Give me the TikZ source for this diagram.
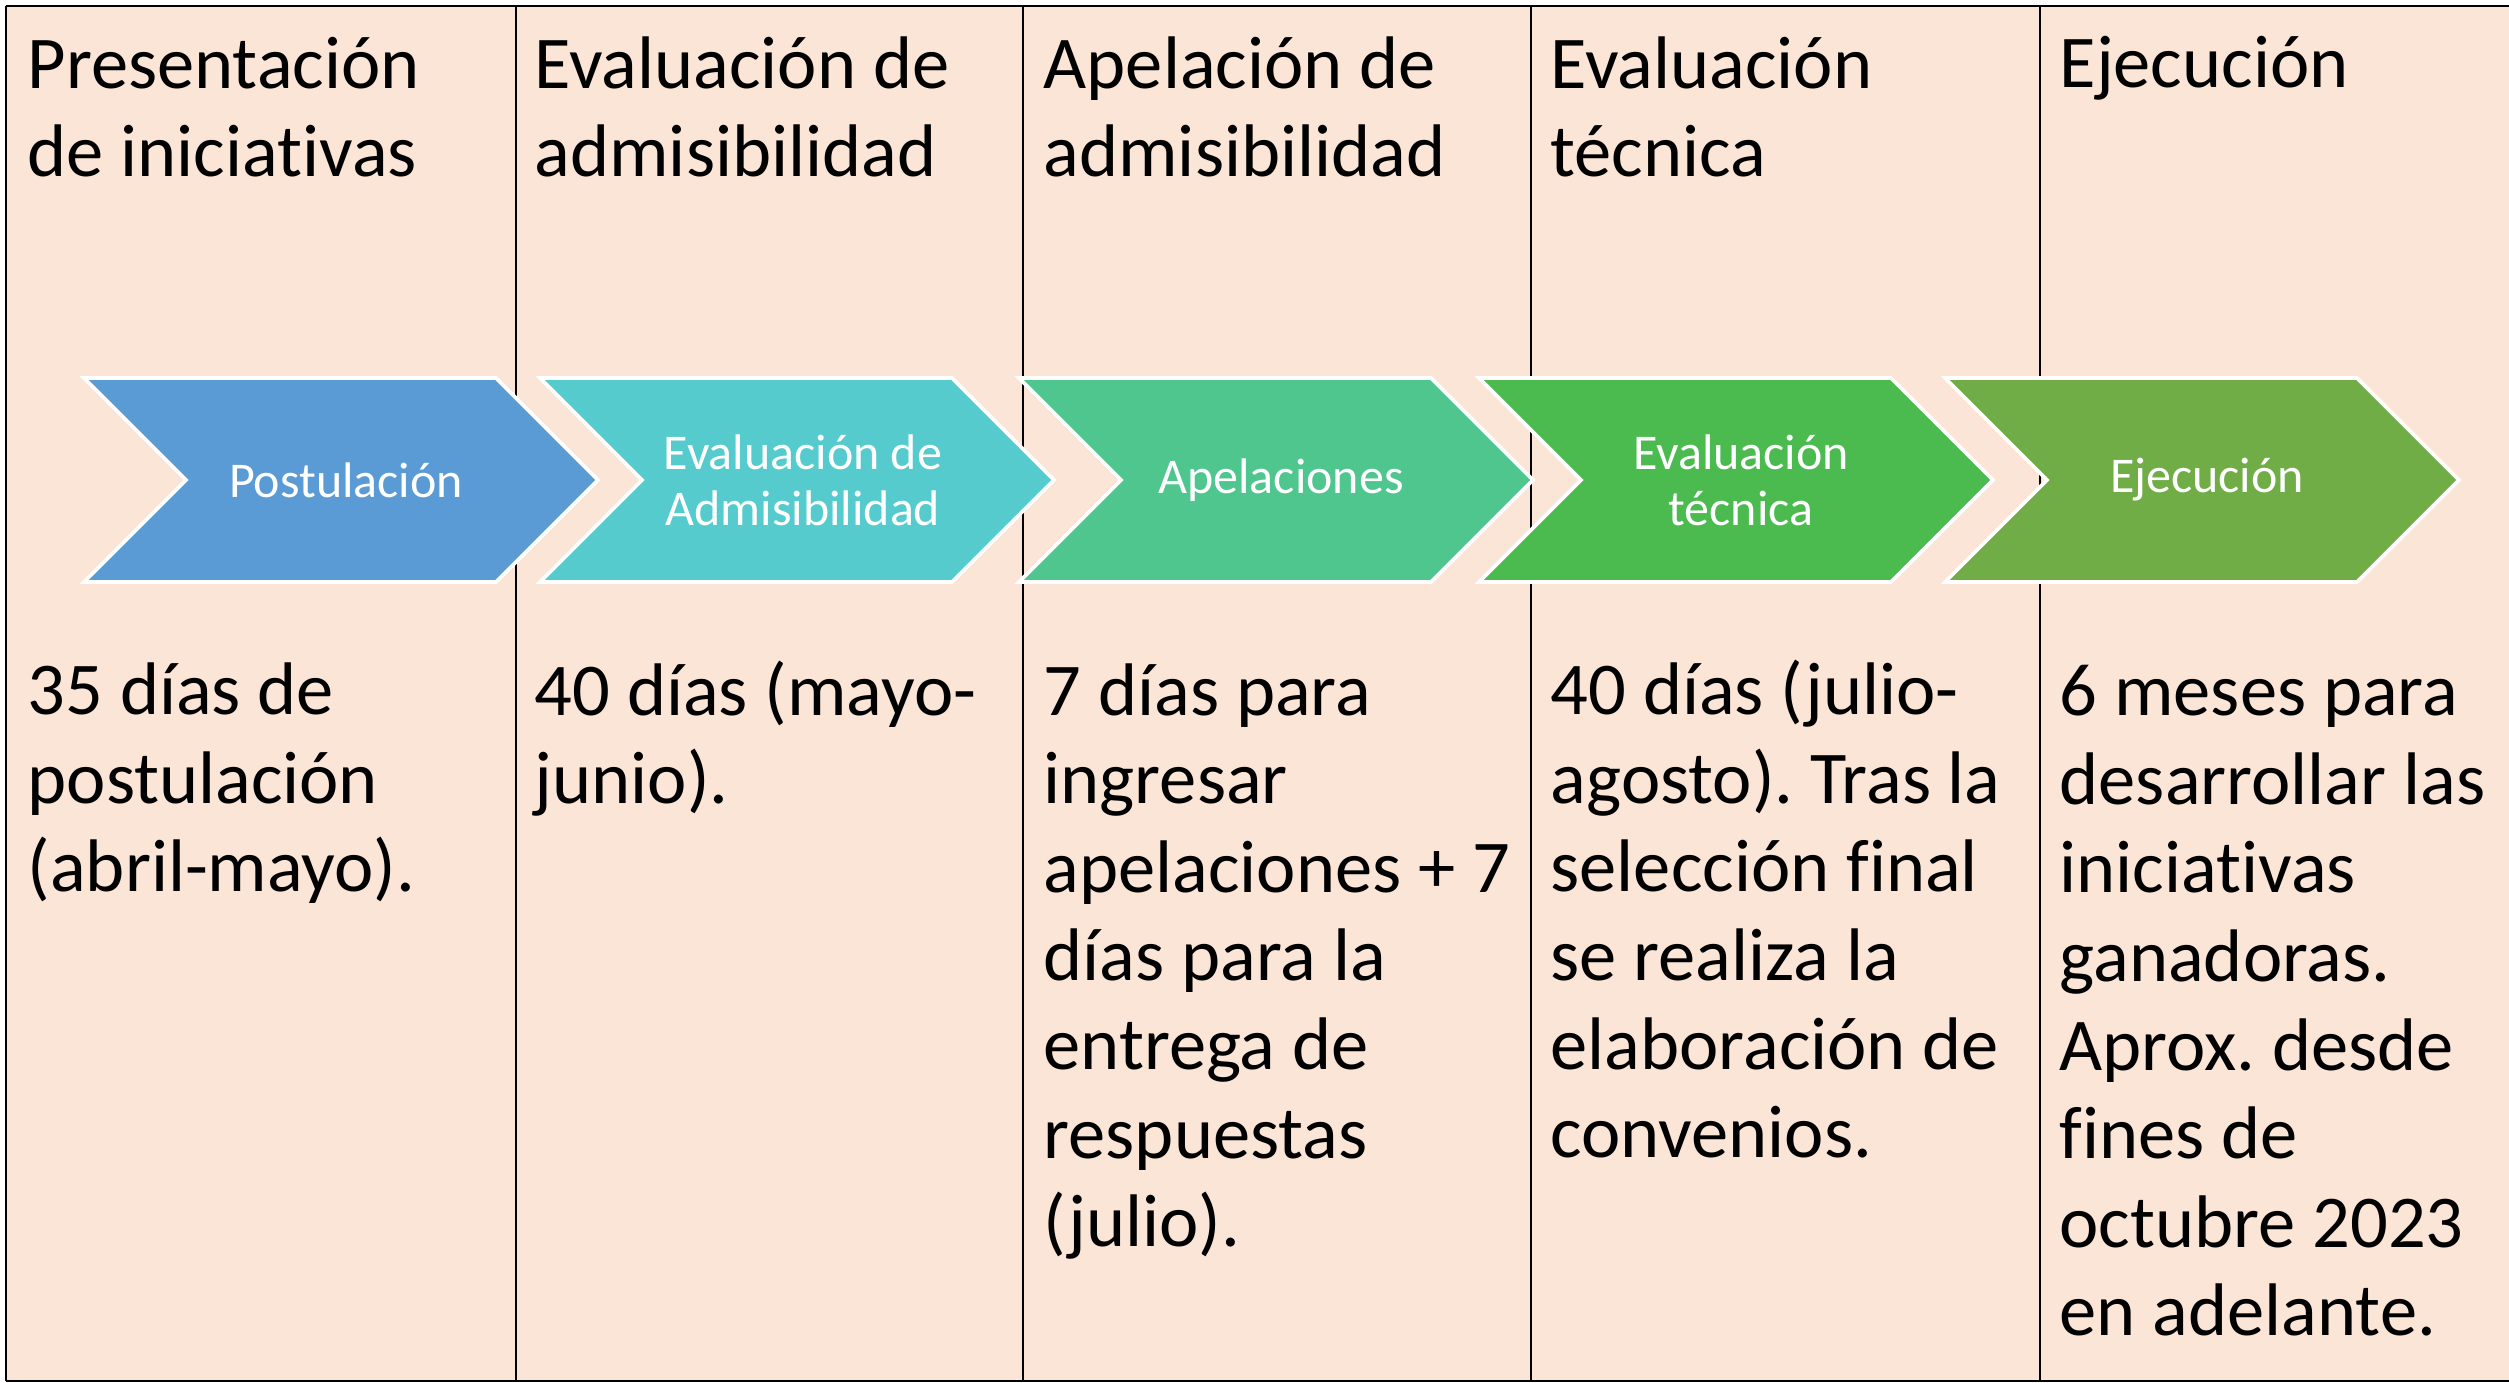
\documentclass[tikz,border=0pt]{standalone}
\usepackage{fontspec}
\setmainfont{Carlito}[Ligatures={NoCommon,NoContextual,NoRare},RawFeature={-liga;-clig;-calt;-dlig}]
\definecolor{bg}{HTML}{FBE5D6}
\definecolor{cA}{HTML}{5B9BD5}
\definecolor{cB}{HTML}{56CBCD}
\definecolor{cC}{HTML}{50C68F}
\definecolor{cD}{HTML}{4BBB50}
\definecolor{cE}{HTML}{70AD47}
\begin{document}
\frenchspacing
\begin{tikzpicture}[x=0.3pt,y=-0.3pt,
  grid/.style={draw=black,line width=0.6pt},
  chevbox/.style={draw=white,line width=1.1pt,line join=miter},
  chevtext/.style={text=white,align=center,inner sep=0pt,font=\fontsize{15}{16.8}\selectfont},
  coltext/.style={anchor=base west,align=left,inner sep=0pt,text=black,font=\fontsize{22.35}{26.6}\selectfont}]
\useasboundingbox (0,0) rectangle (2509,1383);
\fill[white] (0,0) rectangle (2509,1383);
\fill[bg] (6,6) rectangle (2509,1381);
% grid
\draw[grid] (6,6) -- (2509,6);
\draw[grid] (6,1381) -- (2509,1381);
\draw[grid,line width=0.8pt] (6,6) -- (6,1381);
\draw[grid] (516,6) -- (516,1381);
\draw[grid] (1023,6) -- (1023,1381);
\draw[grid] (1531,6) -- (1531,1381);
\draw[grid] (2040,6) -- (2040,1381);
% headers (anchor = baseline of the last line; line pitch 88.7)
\node[coltext] (h1) at (27,177) {Presentación\\de iniciativas};
\node[coltext] (h2) at (534,177) {Evaluación de\\admisibilidad};
\node[coltext] (h3) at (1043,177) {Apelación de\\admisibilidad};
\node[coltext] (h4) at (1550,177) {Evaluación\\técnica};
\node[coltext] (h5) at (2059,88) {Ejecución};
% chevrons
\path[chevbox,fill=cA] (84,378) -- ++(412,0) -- ++(102,102) -- ++(-102,102) -- ++(-412,0) -- ++(102,-102) -- cycle;
\path[chevbox,fill=cB] (540,378) -- ++(412,0) -- ++(102,102) -- ++(-102,102) -- ++(-412,0) -- ++(102,-102) -- cycle;
\path[chevbox,fill=cC] (1019,378) -- ++(412,0) -- ++(102,102) -- ++(-102,102) -- ++(-412,0) -- ++(102,-102) -- cycle;
\path[chevbox,fill=cD] (1479,378) -- ++(412,0) -- ++(102,102) -- ++(-102,102) -- ++(-412,0) -- ++(102,-102) -- cycle;
\path[chevbox,fill=cE] (1945,378) -- ++(412,0) -- ++(102,102) -- ++(-102,102) -- ++(-412,0) -- ++(102,-102) -- cycle;
\node[chevtext] (s1) at (346,480) {Postulación};
\node[chevtext] (s2) at (803,480) {Evaluación de\\Admisibilidad};
\node[chevtext] (s3) at (1281,480) {Apelaciones};
\node[chevtext] (s4) at (1741,480) {Evaluación\\técnica};
\node[chevtext] (s5) at (2207,480) {Ejecución};
% bodies (anchor = baseline of the last line)
\node[coltext] (b1) at (27,892) {35 días de\\postulación\\(abril-mayo).};
\node[coltext] (b2) at (534,804) {40 días (mayo-\\junio).};
\node[coltext] (b3) at (1043,1247) {7 días para\\ingresar\\apelaciones + 7\\días para la\\entrega de\\respuestas\\(julio).};
\node[coltext] (b4) at (1550,1158) {40 días (julio-\\agosto). Tras la\\selección final\\se realiza la\\elaboración de\\convenios.};
\node[coltext] (b5) at (2059,1336) {6 meses para\\desarrollar las\\iniciativas\\ganadoras.\\Aprox. desde\\fines de\\octubre 2023\\en adelante.};
\end{tikzpicture}
\end{document}
